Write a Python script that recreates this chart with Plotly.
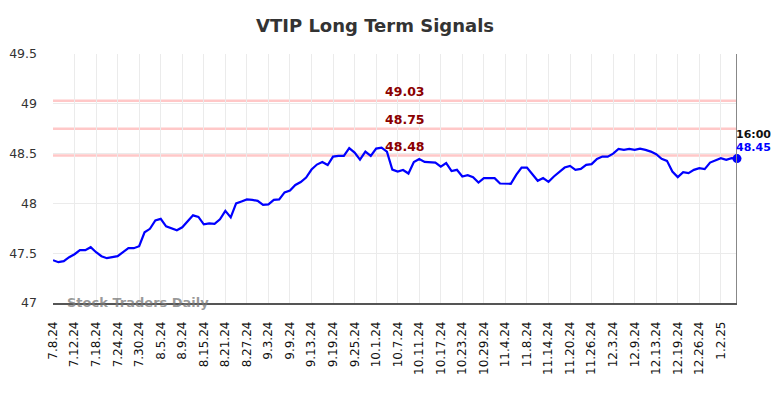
import pandas as pd
import plotly.graph_objects as go
from pandas.tseries.offsets import CustomBusinessDay

# ---- data ----
holidays = ["2024-09-02", "2024-11-28", "2024-12-25", "2025-01-01"]
dates = pd.date_range("2024-07-08", "2025-01-07", freq=CustomBusinessDay(holidays=holidays))
date_labels = [f"{d.month}.{d.day}.{d.strftime('%y')}" for d in dates]

prices = [47.43, 47.41, 47.42, 47.46, 47.49, 47.53, 47.53, 47.56, 47.51, 47.47,
          47.45, 47.46, 47.47, 47.51, 47.55, 47.55, 47.57, 47.71, 47.745, 47.83,
          47.845, 47.77, 47.75, 47.73, 47.76, 47.82, 47.88, 47.865, 47.79, 47.80,
          47.795, 47.84, 47.925, 47.86, 48.00, 48.02, 48.04, 48.035, 48.025, 47.985,
          47.99, 48.035, 48.04, 48.11, 48.13, 48.185, 48.215, 48.26, 48.34, 48.39,
          48.415, 48.385, 48.47, 48.477, 48.477, 48.555, 48.51, 48.44, 48.52, 48.477,
          48.55, 48.56, 48.52, 48.34, 48.32, 48.335, 48.30, 48.415, 48.445, 48.417,
          48.41, 48.41, 48.37, 48.405, 48.325, 48.337, 48.27, 48.284, 48.264, 48.21,
          48.254, 48.254, 48.254, 48.20, 48.197, 48.197, 48.287, 48.36, 48.36, 48.294,
          48.227, 48.254, 48.217, 48.27, 48.32, 48.36, 48.377, 48.337, 48.347, 48.387,
          48.394, 48.447, 48.47, 48.47, 48.50, 48.547, 48.537, 48.547, 48.537, 48.55,
          48.537, 48.52, 48.494, 48.447, 48.427, 48.32, 48.264, 48.314, 48.304, 48.337,
          48.354, 48.344, 48.41, 48.43, 48.454, 48.437, 48.454, 48.45]

signal_levels = [49.03, 48.75, 48.48]
last_time = "16:00"
last_price = 48.45
y_ticks = [47, 47.5, 48, 48.5, 49, 49.5]
y_tick_text = ["47", "47.5", "48", "48.5", "49", "49.5"]

n = min(len(dates), len(prices))
x_idx = list(range(n))
tick_idx = x_idx[::4][:32]
tick_text = [date_labels[i] for i in tick_idx]

fig = go.Figure()
fig.add_trace(go.Scatter(x=x_idx, y=prices[:n], mode="lines",
                         line=dict(color="#0000ff", width=2.2), hoverinfo="skip"))
fig.add_trace(go.Scatter(x=[x_idx[-1]], y=[last_price], mode="markers",
                         marker=dict(color="#0000ff", size=9), cliponaxis=False))

for lv in signal_levels:
    fig.add_shape(type="line", xref="paper", x0=0, x1=1, yref="y", y0=lv, y1=lv,
                  line=dict(color="#ffc8c8", width=2.5), layer="below")
    fig.add_annotation(xref="paper", x=0.515, yref="y", y=lv, yanchor="bottom",
                       text=f"<b>{lv:.2f}</b>", showarrow=False,
                       font=dict(family="DejaVu Sans", size=12.5, color="#8b0000"))

fig.add_shape(type="line", xref="x", x0=x_idx[-1], x1=x_idx[-1], yref="paper", y0=0, y1=1,
              line=dict(color="#888888", width=2))

fig.add_annotation(xref="x", x=x_idx[-1], yref="y", y=last_price, xanchor="left", yanchor="middle",
                   text=f"<b>{last_time}</b>", showarrow=False, yshift=24, xshift=-3,
                   font=dict(family="DejaVu Sans", size=11, color="#111111"))
fig.add_annotation(xref="x", x=x_idx[-1], yref="y", y=last_price, xanchor="left", yanchor="middle",
                   text=f"<b>{last_price:.2f}</b>", showarrow=False, yshift=11, xshift=-3,
                   font=dict(family="DejaVu Sans", size=11, color="#0000ff"))

fig.add_annotation(xref="paper", x=0.018, yref="paper", y=0.004, xanchor="left", yanchor="middle",
                   text="<b>Stock Traders Daily</b>", showarrow=False,
                   font=dict(family="DejaVu Sans", size=13, color="rgba(120,120,120,0.75)"))

fig.update_layout(
    width=776, height=390,
    margin=dict(l=45, r=47, t=46, b=95),
    paper_bgcolor="white", plot_bgcolor="white",
    showlegend=False,
    title=dict(text="<b>VTIP Long Term Signals</b>", x=0.473, xanchor="center", y=0.954, yanchor="middle",
               font=dict(family="DejaVu Sans", size=18, color="#333333")),
    font=dict(family="DejaVu Sans"),
)
fig.update_xaxes(range=[0, n - 1], tickmode="array", tickvals=tick_idx, ticktext=tick_text,
                 tickangle=-90, showgrid=True, gridcolor="#ebebeb", gridwidth=1,
                 showline=True, linecolor="#555555", linewidth=1.5, zeroline=False,
                 tickfont=dict(family="DejaVu Sans", size=12, color="#111111"), ticks="",
                 ticklabelstandoff=12, automargin=False)
fig.update_yaxes(range=[47, 49.5], tickmode="array", tickvals=y_ticks, ticktext=y_tick_text,
                 showgrid=True, gridcolor="#ebebeb", gridwidth=1, zeroline=False, showline=False,
                 tickfont=dict(family="DejaVu Sans", size=12.5, color="#333333"), ticks="",
                 ticklabelstandoff=15, automargin=False)

fig.write_html("out.html")
